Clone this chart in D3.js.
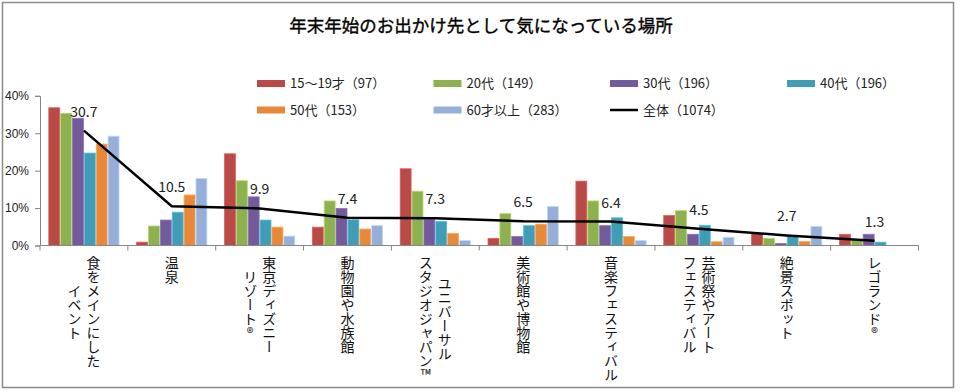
<!DOCTYPE html>
<html><head><meta charset="utf-8">
<script src="https://cdn.jsdelivr.net/npm/d3@7/dist/d3.min.js"></script>
<style>
html,body{margin:0;padding:0;background:#fff;}
text{font-family:"Noto Sans CJK JP","Noto Sans",sans-serif;}
</style></head>
<body><svg id="c" width="960" height="392"></svg>
<script>
const title = "年末年始のお出かけ先として気になっている場所";
const categories = [
  ["食をメインにした","イベント"],
  ["温泉"],
  ["東京ディズニー","リゾート®"],
  ["動物園や水族館"],
  ["ユニバーサル","スタジオジャパン™"],
  ["美術館や博物館"],
  ["音楽フェスティバル"],
  ["芸術祭やアート","フェスティバル"],
  ["絶景スポット"],
  ["レゴランド®"]
];
const seriesNames = ["15～19才（97）","20代（149）","30代（196）","40代（196）","50代（153）","60才以上（283）"];
const lineName = "全体（1074）";
const s15 = [36.8, 0.9, 24.5, 4.9, 20.5, 1.9, 17.2, 8.0, 3.2, 3.0];
const s20 = [35.3, 5.2, 17.3, 11.9, 14.5, 8.5, 11.9, 9.3, 1.9, 1.5];
const s30 = [34.0, 6.8, 13.0, 9.9, 7.0, 2.4, 5.3, 3.0, 0.5, 3.0];
const s40 = [24.7, 8.9, 6.8, 6.9, 6.4, 5.3, 7.4, 5.4, 2.5, 0.9];
const s50 = [27.1, 13.5, 4.9, 4.4, 3.2, 5.7, 2.4, 1.0, 1.1, 0];
const s60 = [29.2, 17.9, 2.5, 5.3, 1.3, 10.4, 1.3, 2.2, 5.1, 0];
const total = [30.7, 10.5, 9.9, 7.4, 7.3, 6.5, 6.4, 4.5, 2.7, 1.3];
const yTicks = [0, 10, 20, 30, 40];
const colors = ["#B84A47","#8DB051","#725A9B","#409DB5","#E8883A","#96AFDA"];
const series = [s15, s20, s30, s40, s50, s60];

const svg = d3.select("#c");
svg.append("rect").attr("x",2.5).attr("y",2.5).attr("width",951).attr("height",385)
  .attr("fill","#fff").attr("stroke","#8a8a8a").attr("stroke-width",1.5);

svg.append("text").attr("x",481).attr("y",32).attr("text-anchor","middle")
  .attr("font-size",17.5).attr("font-weight","normal").attr("fill","#000")
  .attr("stroke","#000").attr("stroke-width",0.35).text(title);

const x0 = d3.scaleBand().domain(d3.range(categories.length)).range([40, 918.5]).paddingInner(0).paddingOuter(0);
const x1 = d3.scaleBand().domain(d3.range(series.length)).range([8.8, x0.bandwidth()-8.8]).paddingInner(0.08).paddingOuter(0);
const y = d3.scaleLinear().domain([0, 40]).range([245.5, 95.8]);

// y axis
const yAxis = d3.axisLeft(y).tickValues(yTicks).tickFormat(d => d + "%").tickSize(5).tickPadding(6);
const gy = svg.append("g").attr("transform","translate(40,0)").call(yAxis);
gy.select(".domain").attr("stroke","#868686");
gy.selectAll(".tick line").attr("stroke","#868686");
gy.selectAll(".tick text").attr("font-size",12).attr("fill","#222")
  .style("font-family","'Liberation Sans',Arial,sans-serif");

// bars
const g = svg.append("g");
categories.forEach((c, i) => {
  series.forEach((s, j) => {
    const v = s[i];
    if (v <= 0) return;
    g.append("rect")
      .attr("x", x0(i) + x1(j))
      .attr("y", y(v))
      .attr("width", x1.bandwidth())
      .attr("height", y(0) - y(v))
      .attr("fill", colors[j])
      .attr("stroke", d3.color(colors[j]).brighter(0.6))
      .attr("stroke-width", 0.8);
  });
});

// x axis
const xAxisLine = svg.append("g");
xAxisLine.append("line").attr("x1",40).attr("x2",918.5).attr("y1",245.5).attr("y2",245.5).attr("stroke","#868686");
d3.range(categories.length+1).forEach(i => {
  const xx = i < categories.length ? x0(i) : 918.5;
  xAxisLine.append("line").attr("x1",xx).attr("x2",xx).attr("y1",245.5).attr("y2",250.5).attr("stroke","#868686");
});

// line
const cx = i => x0(i) + x0.bandwidth()/2;
svg.append("path").datum(total)
  .attr("d", d3.line().x((d,i)=>cx(i)).y(d=>y(d)))
  .attr("fill","none").attr("stroke","#000").attr("stroke-width",2.5);
svg.selectAll(".lbl").data(total).enter().append("text")
  .attr("x",(d,i)=>cx(i)).attr("y",d=>y(d)-14)
  .attr("text-anchor","middle").attr("font-size",14).attr("fill","#222")
  .text(d=>d.toFixed(1));

// x labels (vertical)
const fs = 14, colGap = 19, labelTop = 256;
categories.forEach((lines, i) => {
  const n = lines.length;
  const maxLen = d3.max(lines, l => Array.from(l).length);
  lines.forEach((l, k) => {
    const xx = cx(i) + ((n-1)/2 - k) * colGap;
    svg.append("text")
      .attr("x", xx).attr("y", labelTop + maxLen*fs/2)
      .attr("text-anchor","middle")
      .attr("font-size", fs).attr("fill","#111")
      .style("writing-mode","vertical-rl")
      .text(l);
  });
});

// legend
const legendItems = seriesNames.map((n,j)=>({name:n,color:colors[j],type:"bar"}));
legendItems.push({name:lineName,color:"#000",type:"line"});
const legX = [257, 433.5, 610, 787];
const legY = [83.5, 110];
legendItems.forEach((it, k) => {
  const r = Math.floor(k/4), c = k%4;
  const lx = legX[c], ly = legY[r];
  if (it.type === "bar") {
    svg.append("rect").attr("x",lx).attr("y",ly-3.5).attr("width",28).attr("height",7).attr("fill",it.color);
  } else {
    svg.append("line").attr("x1",lx).attr("x2",lx+28).attr("y1",ly).attr("y2",ly).attr("stroke","#000").attr("stroke-width",2.5);
  }
  svg.append("text").attr("x",lx+33).attr("y",ly).attr("dy","0.36em")
    .attr("font-size",13).attr("fill","#222").text(it.name);
});
</script></body></html>
